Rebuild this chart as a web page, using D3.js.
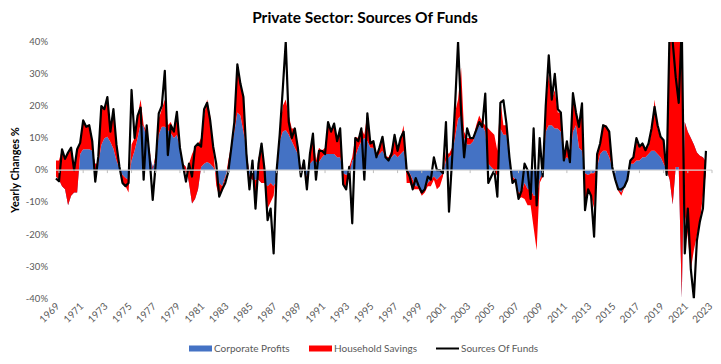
<!DOCTYPE html>
<html><head><meta charset="utf-8">
<script src="https://cdn.jsdelivr.net/npm/d3@7"></script>
<style>
body{margin:0;background:#fff}
svg{display:block}
text{font-family:Lato,"Liberation Sans",sans-serif}
</style>
</head><body>
<svg id="chart" width="721" height="364"></svg>
<script>
// Quarterly observations, first one is 1968 Q4
const firstQuarter = 1968.75;
const corporateProfits = [
 -2,-3,-5,-6,-11,-8,-7,-7,5,6.5,
 6.5,6.5,6,2,2,7.8,9.9,10.4,8.8,6.7,
 3,0.5,-1.5,-2.5,-3,3,6,10,14.5,13.5,
 10,5,1,3,11,13.5,13.5,12.5,11.5,10,
 11,7,2,1,-4,-10.4,-9,-6,1,2,
 2.5,2,1,-1,-4,-5,-2,1,7,12,
 18,17,12,7,-2,-3,-3,-3,-4,-4,
 -5,-4,-5,-3,9,12,12.5,11,9,7,
 5,1,0,-2,2,3,2.5,2.5,4,5,
 5,5,5,4,4,-1,-1.5,-1,3,4,
 7,9,10,9,7,7,4,5,6,4,
 3.5,4,5,4,5,6,0.5,-1,-3,-5,
 -5,-7,-6,-4,-3,-2,-3,-2,-1,3,
 4,5,10,16,17,10,8,8,9,12,
 14,14,12,2,1,0,-2,13,11,11,
 3,-2,-3,-7,-7,-4,-6,-6,-8,-8,
 -3,-1,12,14,14,13,13,12,3,4,
 3,12,14,7,6,-1,-1.5,-1,-1,1,
 5,6,6,4,1,-2.5,-6,-7,-5,-3,
 2,2,3,3,4,4,5,6,6,5,
 4,2,0,-3,-10.7,1,1,-40,15,12,
 10,8,5.5,4.5,4,2.5
];
const householdSavings = [
 5,6,11.5,9.5,16.5,15,8,13.5,3.5,9,
 7,7.5,3,-5.6,2.2,12.2,9.1,12.4,5.2,12.3,
 5,0.5,-2.5,-2.5,-4,5,4,7,7.5,0.5,
 2,1,-1,2,5,5.5,8.5,1.5,3.5,2,
 7,1,0,-2,6,15.4,16,14,9,15,
 19.5,15,6,-3.7,-4.3,-1,-1,2,1,3,
 15,10,10,1,-4,6,-7,7,10,4,
 -7,-6,-3,3,2,8,9.5,6,4,6,
 3,-1,2,-4,3,8,0.5,4.5,2,2,
 10,7,9,5,8,-3.5,-4.5,2,1,6.4,
 3,4,1,8.7,2,2,0,2,4,0.5,
 0.5,2,6,2,5,8,-4.5,-3,-3,-1,
 -1,-1,-1,-1,-2,-1,-3,-3,-1,3,
 1,2,8,6,15,2,2,2,1,2,
 3,1,2,11,11,11,8,9,3,3,
 1,-1,-1,-2,-1.5,-5,-5,-5,-10,-17,
 -1,-1,8,16,8,12,5,6,1,5,
 0,12,4,6.5,15,-11.5,-4.5,-7,-11,3,
 3,8,8,8,0,-0.5,-0.5,-1,-0.5,-0.5,
 1,2,6,4,4,2,2.5,6,16,8,
 6,7,-1.5,48,55.7,44,44,85,-29,-33,
 -41,-33,-26,-20.5,-12,-3.5
];
const sourcesOfFunds = [
 -2.6,-3.5,6.5,3.5,5.5,7,0,6.5,8.5,15.5,
 13.5,14,9,-3.6,4.2,20,19,22.8,12,19,
 8,1,-4,-5,-4,25,10,17,19.5,-3,
 14,3.5,-9.3,2,17.7,20,31,4.7,14,12,
 18.2,7,1.5,-3.6,2,-2,7.3,8.3,7.3,19,
 21,15.6,7.3,2,-8.3,-6,-4,-0.5,7,15,
 33,27,22.8,5,-6,3,-12,2,8.3,0,
 -15.6,-12,-26,0,11,25,40,15,10,13,
 7,-2,3,-6,5,11.4,-3,6,6,5,
 15,12,14.5,9,13,-4.5,-6,1,-16.6,10,
 9,13,-3,17.7,8.3,9,4,7,10.4,4,
 3,5,11,6,10,12,0,-2,-6,-2.5,
 -5,-7,-6,-2,-3,4,0,0,-1,15,
 -13,3,20,40,18,4,13,10,10,12.5,
 15,13.5,23.9,-4,-2,0,-8.3,21,21.8,14.5,
 4,-4,-3,-9,-6.5,2,0,-9,13,-11,
 10,-2,20,35.8,22,30,19,18,3,9,
 2.5,24,18,13.5,20.8,-12.5,-6,-8,-20.8,5,
 8.3,14,13.5,12,1,-3,-6,-6,-5.2,-3,
 3,4,10,7.3,8.3,6.2,8.3,13,19.7,14,
 10.4,9.3,-1.5,45,40,29,21,45,-26,-12,
 -31,-40,-22,-16,-12,6
];
const tickYears = [1969,1971,1973,1975,1977,1979,1981,1983,1985,1987,1989,1991,1993,1995,1997,1999,2001,2003,2005,2007,2009,2011,2013,2015,2017,2019,2021,2023];
const yTicks = [-40,-30,-20,-10,0,10,20,30,40];
const seriesNames = ["Corporate Profits","Household Savings","Sources Of Funds"];
const colors = {corp:"#4472C4", house:"#FF0000", src:"#000000"};

const svg = d3.select("#chart");
const x = d3.scaleLinear().domain([1969, 2023]).range([59, 712]);
const y = d3.scaleLinear().domain([-40, 40]).range([298.3, 41.9]);

const rows = corporateProfits.map((c, i) => ({
  t: firstQuarter + i * 0.25,
  corp: c,
  house: householdSavings[i],
  src: sourcesOfFunds[i]
}));

svg.append("defs").append("clipPath").attr("id","plotClip")
  .append("rect").attr("x", 50).attr("y", y(40)).attr("width", 670).attr("height", y(-40) - y(40));

const stacked = d3.stack().keys(["corp","house"])(rows);
const area = d3.area()
  .x(d => x(d.data.t))
  .y0(d => y(d[0]))
  .y1(d => y(d[1]));

const plot = svg.append("g").attr("clip-path","url(#plotClip)");
plot.selectAll("path.area").data(stacked).join("path")
  .attr("class","area")
  .attr("fill", d => colors[d.key])
  .attr("d", area);

// zero axis line with ticks
svg.append("line").attr("x1", 56).attr("x2", 712).attr("y1", y(0)).attr("y2", y(0))
  .attr("stroke","#D9D9D9").attr("stroke-width",1.2);
svg.selectAll("line.tick").data(tickYears).join("line").attr("class","tick")
  .attr("x1", d => x(d)).attr("x2", d => x(d))
  .attr("y1", y(0)).attr("y2", y(0) + 3)
  .attr("stroke","#BFBFBF").attr("stroke-width",1);

const line = d3.line().x(d => x(d.t)).y(d => y(d.src));
plot.append("path").datum(rows)
  .attr("fill","none").attr("stroke", colors.src).attr("stroke-width", 2.2)
  .attr("stroke-linejoin","round").attr("d", line);

// y axis labels
svg.selectAll("text.ylab").data(yTicks).join("text").attr("class","ylab")
  .attr("x", 48).attr("y", d => y(d)).attr("dy","0.35em")
  .attr("text-anchor","end").attr("font-size", 9.5).attr("fill","#595959")
  .text(d => d + "%");

// x axis labels
svg.selectAll("text.xlab").data(tickYears).join("text").attr("class","xlab")
  .attr("transform", d => `translate(${x(d) + 1},${307}) rotate(-45)`)
  .attr("text-anchor","end").attr("font-size", 10).attr("fill","#595959")
  .text(d => d);

// title
svg.append("text").attr("x", 365).attr("y", 23).attr("text-anchor","middle")
  .attr("font-size", 15.5).attr("font-weight","bold").attr("fill","#000")
  .text("Private Sector: Sources Of Funds");

// y axis title
svg.append("text").attr("transform", `translate(19,${y(0)}) rotate(-90)`)
  .attr("text-anchor","middle").attr("font-size", 11).attr("font-weight","bold").attr("fill","#000")
  .text("Yearly Changes %");

// legend
const legend = svg.append("g").attr("font-size", 10).attr("fill","#595959");
const items = [
  {name: seriesNames[0], type:"rect", color: colors.corp, x: 189, tx: 214},
  {name: seriesNames[1], type:"rect", color: colors.house, x: 309, tx: 334},
  {name: seriesNames[2], type:"line", color: colors.src, x: 436, tx: 461}
];
items.forEach(it => {
  if (it.type === "rect") {
    legend.append("rect").attr("x", it.x).attr("y", 345.5).attr("width", 23).attr("height", 6).attr("fill", it.color);
  } else {
    legend.append("line").attr("x1", it.x).attr("x2", it.x + 23).attr("y1", 348.5).attr("y2", 348.5)
      .attr("stroke", it.color).attr("stroke-width", 2);
  }
  legend.append("text").attr("x", it.tx).attr("y", 348.5).attr("dy","0.35em").text(it.name);
});
</script>
</body></html>
